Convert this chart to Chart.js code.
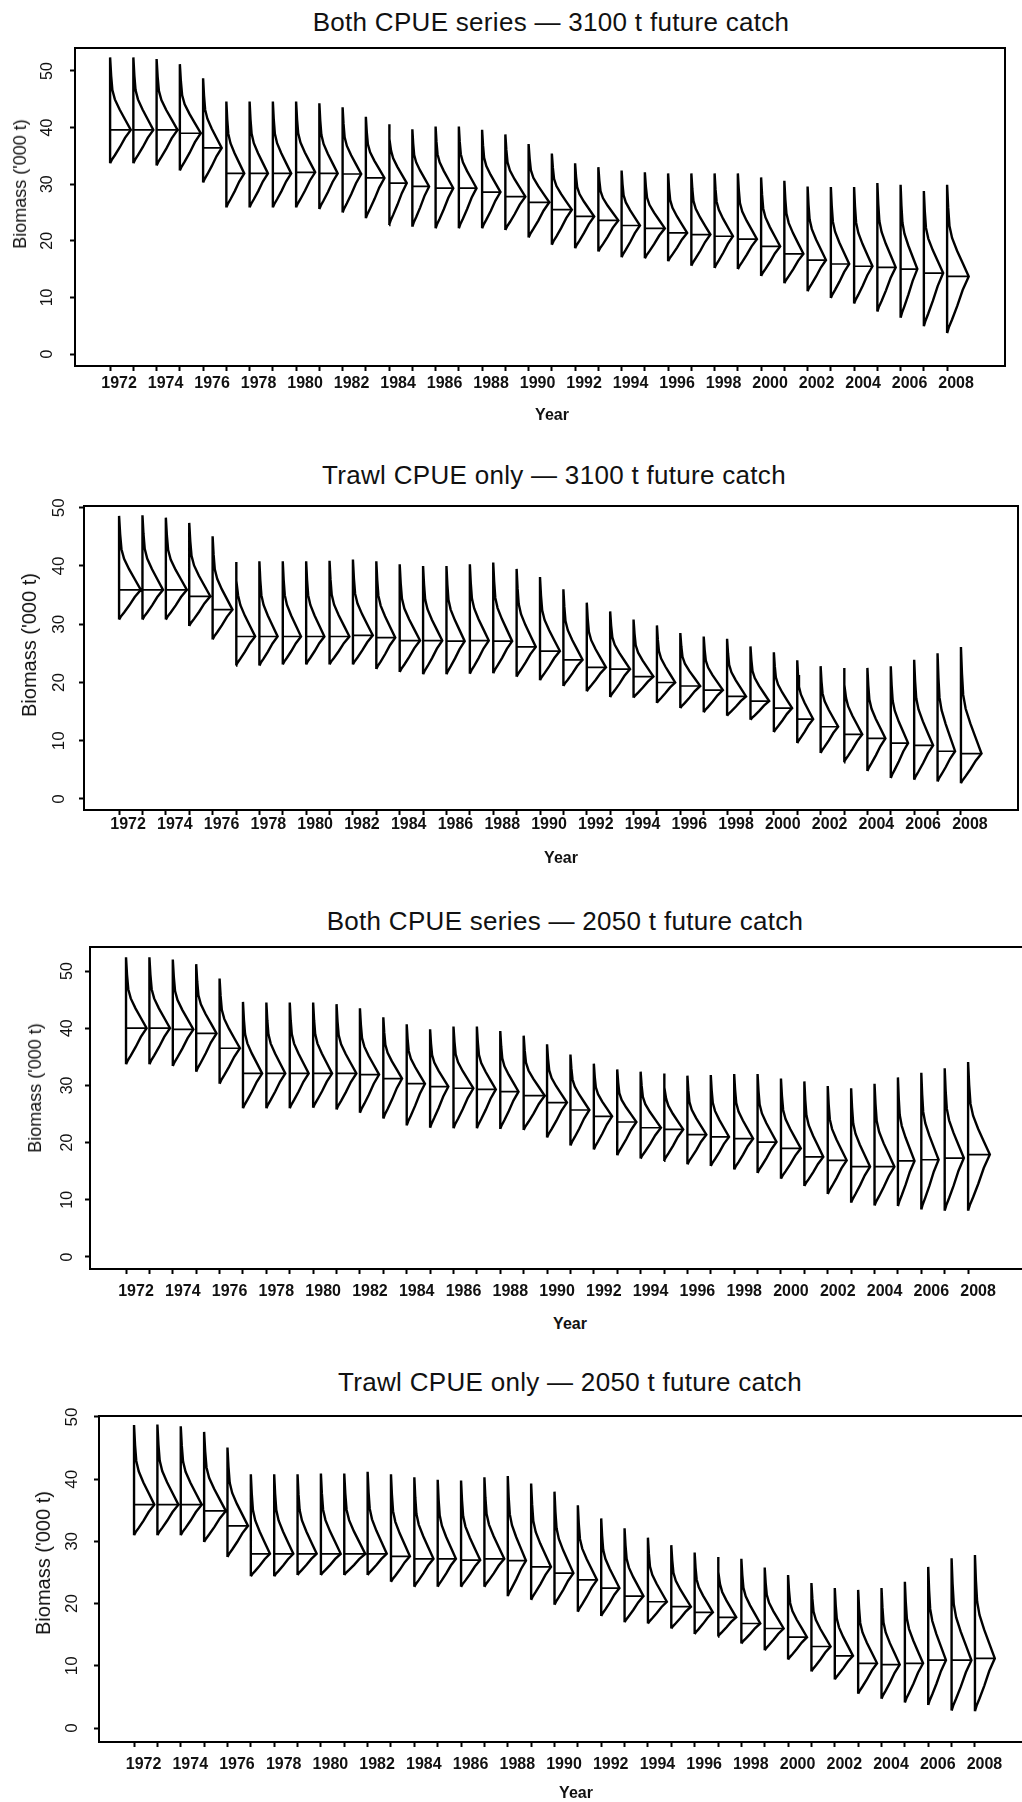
<!DOCTYPE html>
<html>
<head>
<meta charset="utf-8">
<script src="https://cdn.jsdelivr.net/npm/chart.js@4.4.0/dist/chart.umd.min.js"></script>
<style>
  html, body { margin: 0; padding: 0; background: #fff; }
  body { width: 1022px; height: 1802px; position: relative; overflow: hidden; font-family: "Liberation Sans", Arial, sans-serif; color: #111; }
  canvas { position: absolute; left: 0; }
  .ttl, .xttl, .yttl { position: absolute; white-space: nowrap; width: max-content; }
  .ttl { transform: translate(-50%, -50%); font-size: 26px; line-height: 26px; letter-spacing: 0.3px; }
  .xttl { transform: translate(-50%, -50%); font-size: 16px; line-height: 16px; font-weight: bold; }
  .yttl { transform: translate(-50%, -50%) rotate(-90deg); line-height: 1; }
</style>
</head>
<body>
<script>
// ---------------- data ----------------
const years = [1972,1973,1974,1975,1976,1977,1978,1979,1980,1981,1982,1983,1984,1985,1986,1987,1988,1989,1990,
               1991,1992,1993,1994,1995,1996,1997,1998,1999,2000,2001,2002,2003,2004,2005,2006,2007,2008];
const xLabelYears = [1972,1974,1976,1978,1980,1982,1984,1986,1988,1990,1992,1994,1996,1998,2000,2002,2004,2006,2008];
const yTicks = [0,10,20,30,40,50];

// Panel 1: Both CPUE series — 3100 t
const p1Lo  = [33.7,33.7,33.3,32.4,30.3,25.9,25.9,25.9,25.9,25.6,25.0,24.0,22.8,22.5,22.2,22.2,22.2,21.9,20.6,19.3,18.7,18.1,17.1,16.9,16.4,15.6,15.2,15.0,13.8,12.5,11.1,9.9,8.9,7.5,6.4,4.9,3.7];
const p1Hi  = [52.4,52.4,52.1,51.2,48.7,44.6,44.6,44.6,44.6,44.3,43.6,41.9,40.6,39.7,40.2,40.2,39.6,38.8,37.1,35.4,33.7,33.0,32.4,32.1,31.9,31.9,31.9,31.9,31.2,30.6,29.6,29.5,29.5,30.2,29.9,28.8,29.9];
const p1Med = [39.6,39.6,39.6,39.0,36.4,31.9,31.9,31.9,32.1,31.9,31.8,31.1,30.2,29.6,29.3,29.3,28.6,27.8,26.8,25.5,24.3,23.6,22.7,22.2,21.4,21.1,20.8,20.3,19.0,17.7,16.6,15.9,15.5,15.3,15.0,14.3,13.7];
const p1Wid = [0.89,0.86,0.90,0.90,0.80,0.77,0.79,0.79,0.82,0.79,0.80,0.80,0.76,0.72,0.76,0.76,0.79,0.86,0.89,0.86,0.82,0.86,0.79,0.86,0.82,0.82,0.79,0.82,0.82,0.82,0.79,0.79,0.79,0.79,0.72,0.83,0.93];

// Panel 2: Trawl CPUE only — 3100 t
const p2Lo  = [30.8,30.8,30.8,29.7,27.4,22.9,22.9,23.1,23.1,23.1,23.1,22.3,21.8,21.4,21.4,21.5,21.6,21.0,20.4,19.4,18.5,17.5,17.4,16.5,15.6,14.9,14.3,13.6,11.5,9.6,7.9,6.3,4.8,3.6,3.3,3.0,2.7];
const p2Hi  = [48.6,48.7,48.3,47.4,45.1,40.7,40.8,40.8,40.8,40.9,41.1,40.8,40.3,40.0,40.0,40.3,40.6,39.5,38.1,36.0,33.7,32.2,30.8,29.8,28.5,27.9,27.5,26.2,25.2,23.8,22.8,22.5,22.5,22.8,23.9,25.0,26.1];
const p2Med = [35.9,35.9,35.9,34.8,32.5,27.9,27.9,27.9,27.9,27.9,28.1,27.7,27.2,27.2,27.1,27.2,27.1,26.1,25.4,23.9,22.6,22.3,21.0,20.0,19.4,18.7,17.6,16.8,15.6,13.7,12.4,11.1,10.4,9.6,9.2,8.2,7.8];
const p2Wid = [0.93,0.88,0.90,0.90,0.85,0.82,0.78,0.78,0.78,0.85,0.85,0.81,0.87,0.82,0.78,0.81,0.81,0.82,0.85,0.82,0.82,0.85,0.85,0.78,0.85,0.82,0.81,0.80,0.78,0.68,0.75,0.78,0.77,0.74,0.81,0.75,0.88];

// Panel 3: Both CPUE series — 2050 t
const p3Lo  = [33.7,33.7,33.4,32.4,30.3,26.0,26.0,26.0,26.1,25.8,25.2,24.2,23.0,22.6,22.5,22.5,22.4,22.2,20.9,19.5,18.8,17.8,17.2,16.8,16.2,15.9,15.3,14.7,13.7,12.4,11.0,9.5,9.0,8.9,8.3,8.1,8.1];
const p3Hi  = [52.4,52.4,52.0,51.2,48.7,44.6,44.5,44.5,44.5,44.2,43.5,41.9,40.7,39.8,40.3,40.3,39.5,38.7,37.2,35.4,33.8,32.8,32.4,32.1,31.7,31.8,32.0,32.0,31.2,30.7,29.9,29.5,30.3,31.4,32.2,33.0,34.1];
const p3Med = [40.0,40.0,39.8,39.1,36.5,32.1,32.1,32.1,32.1,32.1,31.9,31.2,30.3,29.8,29.5,29.3,28.9,28.2,27.0,25.7,24.6,23.6,22.6,22.3,21.4,21.0,20.7,20.1,19.0,17.5,16.9,15.8,15.8,16.8,17.0,17.3,17.9];
const p3Wid = [0.88,0.88,0.88,0.87,0.87,0.82,0.81,0.81,0.81,0.85,0.82,0.80,0.78,0.78,0.85,0.81,0.78,0.90,0.85,0.81,0.78,0.82,0.87,0.82,0.81,0.78,0.81,0.81,0.85,0.81,0.81,0.81,0.85,0.71,0.74,0.82,0.93];

// Panel 4: Trawl CPUE only — 2050 t
const p4Lo  = [31.0,31.0,31.0,29.9,27.5,24.4,24.4,24.6,24.6,24.6,24.6,23.5,22.7,22.7,22.7,22.7,21.2,20.6,19.8,18.7,18.0,17.0,16.8,16.0,15.1,14.7,13.6,12.5,11.0,9.1,7.8,5.5,4.7,4.1,3.7,2.8,2.7];
const p4Hi  = [48.7,48.8,48.5,47.6,45.1,40.8,40.8,40.8,40.9,40.9,41.2,40.8,40.3,39.9,39.8,40.3,40.5,39.3,38.0,35.8,33.7,32.1,30.6,29.4,28.2,27.5,27.2,25.8,24.6,23.3,22.5,22.2,22.5,23.5,25.9,27.3,27.8];
const p4Med = [35.9,35.9,35.9,34.9,32.5,28.0,28.0,28.0,28.0,28.0,28.0,27.6,27.2,27.2,27.0,27.2,26.9,25.9,24.9,23.8,22.5,21.2,20.3,19.5,18.6,17.8,16.8,16.0,14.6,13.1,11.6,10.4,10.2,10.4,10.9,10.9,11.2];
const p4Wid = [0.87,0.90,0.90,0.93,0.88,0.82,0.82,0.82,0.85,0.90,0.82,0.81,0.82,0.78,0.82,0.85,0.78,0.85,0.81,0.82,0.78,0.81,0.81,0.84,0.78,0.78,0.81,0.81,0.81,0.82,0.78,0.81,0.78,0.78,0.76,0.85,0.85];

// Outline shape of each half-violin (fraction of the way from the median to the
// extreme, fraction of the peak width).
const upperProfile = [[1.0,0.0],[0.75,0.05],[0.55,0.11],[0.42,0.23],[0.28,0.46],[0.14,0.73],[0.0,1.0]];
const lowerProfile = [[0.24,0.72],[0.52,0.47],[0.76,0.23],[0.9,0.08],[1.0,0.0]];

// ---------------- layout ----------------
const CW = 1040;
const panels = [
  { lo:p1Lo, hi:p1Hi, med:p1Med, wid:p1Wid, L:75, T:48,  R:1005, B:366,  xMin:1970.49, xMax:2010.49, yMin:-2.12, yMax:54.06,
    title:'Both CPUE series \u2014 3100 t future catch', tx:551, ty:22, yx:552, yy:415, ytx:20, yty:184, ytSize:18,
    yFont:16, yPad:14, xPad:3, lOff:9 },
  { lo:p2Lo, hi:p2Hi, med:p2Med, wid:p2Wid, L:84, T:506, R:1018, B:810,  xMin:1970.5, xMax:2010.44, yMin:-1.89, yMax:50.3,
    title:'Trawl CPUE only \u2014 3100 t future catch', tx:554, ty:475, yx:561, yy:858, ytx:29, yty:645, ytSize:20,
    yFont:17, yPad:10.5, xPad:0, lOff:9 },
  { lo:p3Lo, hi:p3Hi, med:p3Med, wid:p3Wid, L:90, T:947, R:1024, B:1269, xMin:1970.46, xMax:2010.39, yMin:-2.1, yMax:54.2,
    title:'Both CPUE series \u2014 2050 t future catch', tx:565, ty:921, yx:570, yy:1324, ytx:35, yty:1088, ytSize:18,
    yFont:16, yPad:9, xPad:8, lOff:10 },
  { lo:p4Lo, hi:p4Hi, med:p4Med, wid:p4Wid, L:99, T:1416, R:1024, B:1742, xMin:1970.5, xMax:2010.1, yMin:-2.25, yMax:50.16,
    title:'Trawl CPUE only \u2014 2050 t future catch', tx:570, ty:1382, yx:576, yy:1793, ytx:43, yty:1563, ytSize:20,
    yFont:17, yPad:12.5, xPad:8, lOff:9.5 }
];

const framePlugin = {
  id: 'frame',
  afterDraw(chart) {
    const a = chart.chartArea, ctx = chart.ctx;
    ctx.save();
    ctx.strokeStyle = '#000';
    ctx.lineWidth = 2;
    ctx.strokeRect(a.left, a.top, a.right - a.left, a.bottom - a.top);
    ctx.restore();
  }
};

function addText(cls, txt, x, y, extra) {
  const d = document.createElement('div');
  d.className = cls;
  d.textContent = txt;
  d.style.left = x + 'px';
  d.style.top = y + 'px';
  if (extra) Object.assign(d.style, extra);
  document.body.appendChild(d);
}

function noScalePadding(s) {
  s.paddingTop = 0; s.paddingBottom = 0; s.paddingLeft = 0; s.paddingRight = 0;
}

panels.forEach(p => {
  const YW = 45, XH = 30;
  const cTop = p.T - 10;
  const cH = (p.B - p.T) + 10 + XH + 15;
  const canvas = document.createElement('canvas');
  canvas.width = CW; canvas.height = cH;
  canvas.style.width = CW + 'px'; canvas.style.height = cH + 'px';
  canvas.style.top = cTop + 'px';
  document.body.appendChild(canvas);

  const outline = [], medLine = [];
  years.forEach((yr, i) => {
    const lo = p.lo[i], hi = p.hi[i], md = p.med[i], w = p.wid[i];
    outline.push({ x: yr, y: lo }, { x: yr, y: hi });
    upperProfile.forEach(([f, k]) => outline.push({ x: yr + w * k, y: md + f * (hi - md) }));
    lowerProfile.forEach(([g, k]) => outline.push({ x: yr + w * k, y: md - g * (md - lo) }));
    outline.push({ x: yr, y: null });
    medLine.push({ x: yr, y: md }, { x: yr + w, y: md }, { x: yr, y: null });
  });

  new Chart(canvas, {
    type: 'scatter',
    data: {
      datasets: [
        { data: outline, showLine: true, spanGaps: false, borderColor: '#000', borderWidth: 2.4, pointRadius: 0, tension: 0 },
        { data: medLine, showLine: true, spanGaps: false, borderColor: '#000', borderWidth: 1.7, pointRadius: 0, tension: 0 }
      ]
    },
    options: {
      responsive: false,
      animation: false,
      devicePixelRatio: 1,
      layout: { padding: { left: p.L - YW, right: CW - p.R, top: 10, bottom: 15 } },
      plugins: { legend: { display: false }, tooltip: { enabled: false }, title: { display: false } },
      scales: {
        x: {
          type: 'linear', position: 'bottom', min: p.xMin, max: p.xMax,
          afterBuildTicks: s => { s.ticks = years.map(v => ({ value: v })); },
          afterFit: s => { s.height = XH; noScalePadding(s); },
          border: { display: false },
          grid: { drawOnChartArea: false, drawTicks: true, tickLength: 5, tickWidth: 2, tickColor: '#000' },
          ticks: {
            autoSkip: false, maxRotation: 0, minRotation: 0, padding: p.xPad, labelOffset: p.lOff,
            color: '#111', font: { family: '"Liberation Sans", Arial, sans-serif', size: 16, weight: 'bold' },
            callback: v => xLabelYears.includes(v) ? String(v) : ''
          }
        },
        y: {
          type: 'linear', position: 'left', min: p.yMin, max: p.yMax,
          afterBuildTicks: s => { s.ticks = yTicks.map(v => ({ value: v })); },
          afterFit: s => { s.width = YW; noScalePadding(s); },
          border: { display: false },
          grid: { drawOnChartArea: false, drawTicks: true, tickLength: 5, tickWidth: 2, tickColor: '#000' },
          ticks: {
            minRotation: 90, maxRotation: 90, crossAlign: 'center', padding: p.yPad,
            color: '#111', font: { family: '"Liberation Sans", Arial, sans-serif', size: p.yFont },
            callback: v => String(v)
          }
        }
      }
    },
    plugins: [framePlugin]
  });

  addText('ttl', p.title, p.tx, p.ty);
  addText('xttl', 'Year', p.yx, p.yy);
  addText('yttl', "Biomass ('000 t)", p.ytx, p.yty, { fontSize: p.ytSize + 'px' });
});
</script>
</body>
</html>
